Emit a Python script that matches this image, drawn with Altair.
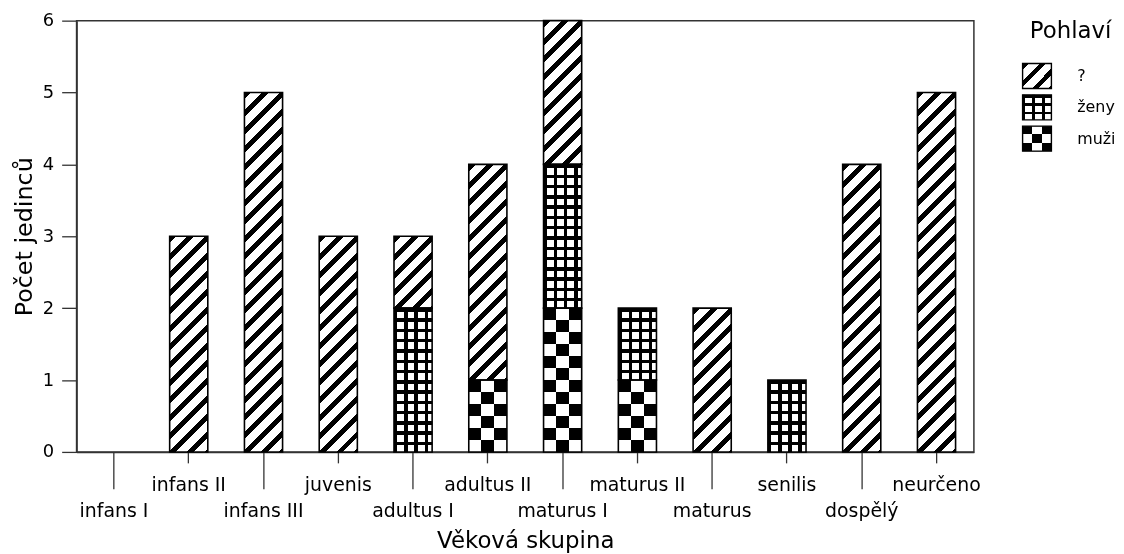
import altair as alt
import pandas as pd

# ---------------- data ----------------
ages = ["infans I", "infans II", "infans III", "juvenis", "adultus I", "adultus II",
        "maturus I", "maturus II", "maturus", "senilis", "dospělý", "neurčeno"]
sexes = ["?", "ženy", "muži"]
unknown = [0, 3, 5, 3, 1, 3, 2, 0, 2, 0, 4, 5]
women = [0, 0, 0, 0, 2, 0, 2, 1, 0, 1, 0, 0]
men = [0, 0, 0, 0, 0, 1, 2, 1, 0, 0, 0, 0]
y_ticks = [0, 1, 2, 3, 4, 5, 6]
lower_row = ages[0::2]

rows = []
for i, a in enumerate(ages):
    for s, vals, o in (("muži", men, 0), ("ženy", women, 1), ("?", unknown, 2)):
        if vals[i] > 0:
            rows.append({"age": a, "sex": s, "count": vals[i], "ord": o})
df = pd.DataFrame(rows)

# ---------------- style ----------------
FONT = "DejaVu Sans"
W, H = 903, 434
PAD_INNER = 0.49
STEP = W / len(ages)
BAR_W = STEP * (1 - PAD_INNER)
UNIT = H / 6.0


def band_stops(length, period, on, c_on="black", c_off="white", phase=0.0):
    stops = []
    pos = -phase
    while pos < length - 1e-9:
        a = max(pos, 0.0)
        b = min(max(pos + on, 0.0), length)
        c = min(pos + period, length)
        if b > a:
            stops += [(a, c_on), (b, c_on)]
        if c > b:
            stops += [(b, c_off), (c, c_off)]
        pos += period
    return [{"offset": round(o / length, 5), "color": col} for o, col in stops]


def diag(w, h, period=18.0, on=7.0):
    s = (w + h) / (w * w + h * h)
    return {"gradient": "linear", "x1": 0, "y1": 0, "x2": round(w * s, 5), "y2": round(h * s, 5),
            "stops": band_stops(w + h, period, on)}


def rows_grad(h, period, on):
    return {"gradient": "linear", "x1": 0, "y1": 0, "x2": 0, "y2": 1,
            "stops": band_stops(h, period, on)}


def cols_grad(w, period, on):
    return {"gradient": "linear", "x1": 0, "y1": 0, "x2": 1, "y2": 0,
            "stops": band_stops(w, period, on)}


def patterns(sex, w, h, small=False):
    if sex == "?":
        return [(diag(w, h, 18.0 if not small else 17.0, 7.0 if not small else 6.5), None)]
    if sex == "ženy":
        cp = w / 3.75 if not small else w / 3.0
        rp = UNIT / 7.0 if not small else h / 3.0
        return [(cols_grad(w, cp, 3.5 if not small else 2.8), None),
                (rows_grad(h, rp, 3.5 if not small else 2.8), "multiply")]
    # muži: checkerboard
    rc = UNIT / 6.0 if not small else h / 3.0
    cc = w / 3.0
    return [(rows_grad(h, 2 * rc, rc), None), (cols_grad(w, 2 * cc, cc), "difference")]


test_lower = "indexof(" + str(lower_row).replace("'", '"') + ", datum.value) >= 0"

xaxis = alt.Axis(
    title="Věková skupina", titleFont=FONT, titleFontSize=23, titleFontWeight="normal",
    titleColor="black", titlePadding=9,
    labelAngle=0, labelFont=FONT, labelFontSize=19, labelColor="black",
    labelBaseline="top", labelPadding=13, labelOverlap=False, labelBound=False,
    labelFlush=False,
    tickSize={"condition": {"test": test_lower, "value": 37}, "value": 11},
    tickColor="#333", tickWidth=1.3, domainColor="#333", domainWidth=1.5, grid=False,
)
yaxis = alt.Axis(
    title="Počet jedinců", titleFont=FONT, titleFontSize=24, titleFontWeight="normal",
    titleColor="black", titlePadding=6,
    values=y_ticks, format="d", labelFont=FONT, labelFontSize=18, labelColor="black",
    labelPadding=8, tickSize=15, tickColor="#333", tickWidth=1.3,
    domainColor="#333", domainWidth=1.5, grid=False,
)

base = alt.Chart(df).transform_stack(
    stack="count", groupby=["age"], as_=["y0", "y1"],
    sort=[alt.SortField("ord", order="ascending")],
).encode(
    x=alt.X("age:N", scale=alt.Scale(domain=ages, paddingInner=PAD_INNER, paddingOuter=PAD_INNER / 2),
            axis=xaxis),
    y=alt.Y("y0:Q", scale=alt.Scale(domain=[0, 6], nice=False), axis=yaxis),
    y2="y1:Q",
)

layers = []
for sex in sexes:
    for k in sorted(set(df.loc[df["sex"] == sex, "count"])):
        for grad, blend in patterns(sex, BAR_W, k * UNIT):
            mk = {"fill": grad, "strokeOpacity": 0}
            if blend:
                mk["blend"] = blend
            layers.append(
                base.mark_bar(**mk).transform_filter(f"datum.sex == '{sex}' && datum.count == {int(k)}")
            )
outline = base.mark_bar(fillOpacity=0, stroke="black", strokeWidth=1.6)
main = alt.layer(*layers, outline).properties(width=W, height=H)

# ---------------- legend panel ----------------
leg_df = pd.DataFrame({"sex": sexes})
SW_W, SW_H = 29, 25
ly = alt.Y("sex:N", scale=alt.Scale(domain=sexes, range=[40, 134.5], paddingInner=0.2, paddingOuter=0.1),
           axis=None)
lbase = alt.Chart(leg_df).encode(y=ly, x=alt.value(0), x2=alt.value(SW_W))
leg_layers = []
for sex in sexes:
    for grad, blend in patterns(sex, SW_W, SW_H, small=True):
        mk = {"fill": grad, "strokeOpacity": 0}
        if blend:
            mk["blend"] = blend
        leg_layers.append(lbase.mark_rect(**mk).transform_filter(f"datum.sex == '{sex}'"))
leg_outline = lbase.mark_rect(fillOpacity=0, stroke="black", strokeWidth=1.4)
leg_text = alt.Chart(leg_df).mark_text(align="left", baseline="middle", font=FONT, fontSize=16,
                                        color="black").encode(y=ly, x=alt.value(55), text="sex:N")
legend = alt.layer(*leg_layers, leg_outline, leg_text).properties(
    width=92, height=H,
    title=alt.TitleParams("Pohlaví", anchor="start", font=FONT, fontSize=23, fontWeight="normal",
                          color="black", offset=-22, dx=8),
    view=alt.ViewBackground(strokeOpacity=0),
)

chart = alt.hconcat(main, legend, spacing=40).properties(
    padding={"left": 3, "top": 1, "right": 0, "bottom": 0}
).configure(font=FONT).configure_view(stroke="#333", strokeWidth=1.5)

chart.save("out.html", embed_options={"renderer": "svg", "actions": False})
